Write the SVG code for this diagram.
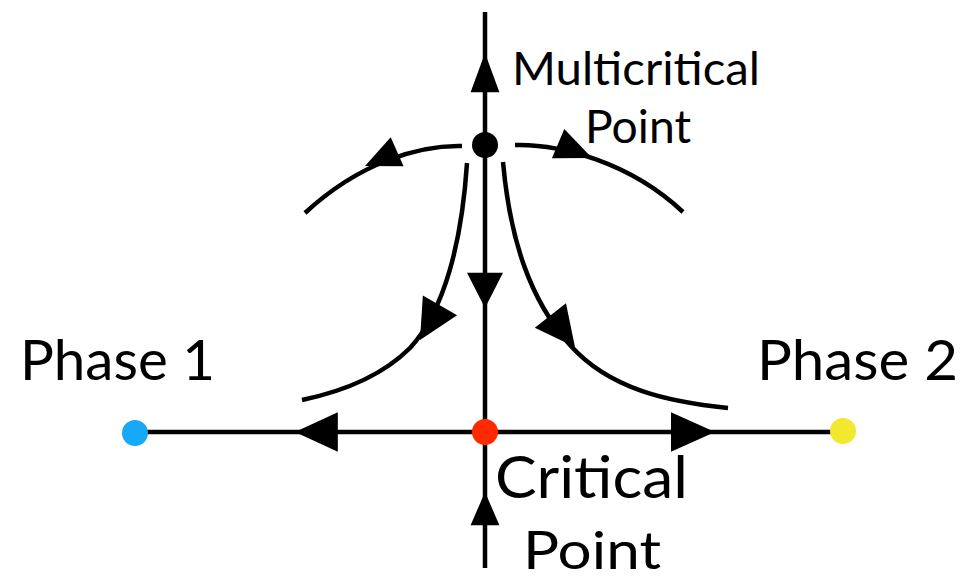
<svg xmlns="http://www.w3.org/2000/svg" width="965" height="580" viewBox="0 0 965 580">
<style>
.ln{fill:none;stroke:#000;stroke-width:4.5;stroke-linecap:butt}
.ah{fill:#000}
.lbl{font-family:Lato,"Open Sans","Liberation Sans",sans-serif;fill:#000}
</style>
<defs>
<path id="ah" d="M0,0 L-40,-18 L-40,18 Z"/>
</defs>
<rect width="965" height="580" fill="#fff"/>
<g id="connectors">
<path class="ln" d="M485,12 V432"/>
<path class="ln" d="M485,432 V568"/>
<path class="ln" d="M135,432 H843"/>
<path class="ln" d="M462,146 C420,145 360,162 305,213"/>
<path class="ln" d="M515,145 C560,144 630,162 683,212"/>
<path class="ln" d="M467,163 C462,240 445,310 410,348 C380,378 340,392 302,400"/>
<path class="ln" d="M503,162 C510,240 530,300 570,345 C610,390 670,402 728,408"/>
<use class="ah" href="#ah" transform="translate(485,53) rotate(-90) scale(0.98,0.8)"/>
<use class="ah" href="#ah" transform="translate(485,308) rotate(90) scale(0.88,1)"/>
<use class="ah" href="#ah" transform="translate(485,492) rotate(-90) scale(0.83,0.8)"/>
<use class="ah" href="#ah" transform="translate(295,432) rotate(180) scale(1.07,1.1)"/>
<use class="ah" href="#ah" transform="translate(715,432) scale(1.1,1.1)"/>
<use class="ah" href="#ah" transform="translate(365,166) rotate(156) scale(0.88,0.88)"/>
<use class="ah" href="#ah" transform="translate(592,158) rotate(23) scale(0.92,0.88)"/>
<use class="ah" href="#ah" transform="translate(420,340) rotate(120) scale(1,1.1)"/>
<use class="ah" href="#ah" transform="translate(575,347) rotate(52) scale(1,1.1)"/>
</g>
<g id="multicritical">
<circle cx="485" cy="145" r="13" fill="#000"/>
<text class="lbl" x="512" y="85" font-size="46" textLength="248" lengthAdjust="spacingAndGlyphs">Multicritical</text>
<text class="lbl" x="585" y="143" font-size="46" textLength="106" lengthAdjust="spacingAndGlyphs">Point</text>
</g>
<g id="critical">
<circle cx="485" cy="432" r="13" fill="#ff2a00"/>
<text class="lbl" x="495" y="498" font-size="58" textLength="193" lengthAdjust="spacingAndGlyphs">Critical</text>
<text class="lbl" x="523" y="569" font-size="52" textLength="138" lengthAdjust="spacingAndGlyphs">Point</text>
</g>
<g id="phase1">
<circle cx="135" cy="433" r="13" fill="#17a9f7"/>
<text class="lbl" x="20" y="380" font-size="56" textLength="195" lengthAdjust="spacingAndGlyphs">Phase 1</text>
</g>
<g id="phase2">
<circle cx="843" cy="431" r="13" fill="#f2e82e"/>
<text class="lbl" x="757" y="380" font-size="56" textLength="201" lengthAdjust="spacingAndGlyphs">Phase 2</text>
</g>
</svg>
